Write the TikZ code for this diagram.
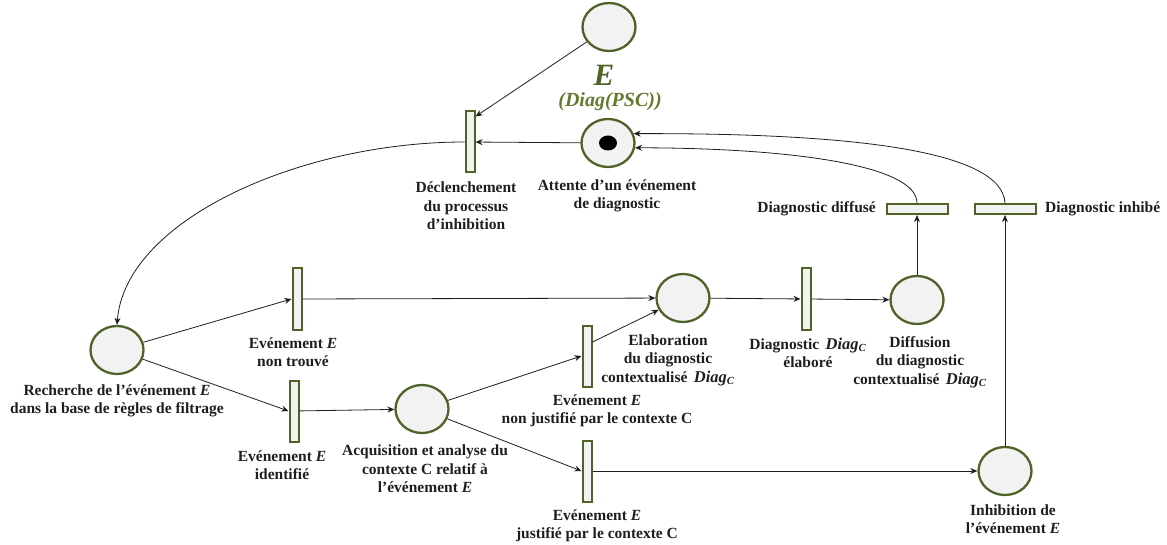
\documentclass[tikz,border=0pt]{standalone}
\usepackage{fontspec}
\setmainfont{Liberation Serif}
\usetikzlibrary{shapes.geometric,arrows.meta}
\definecolor{olv}{HTML}{4F6228}
\definecolor{olvb}{HTML}{627A2E}
\definecolor{fillg}{HTML}{F2F2F2}
\definecolor{txt}{HTML}{1E1E1E}
\newcommand{\mE}{\textit{E}}
\newcommand{\mDiagC}{\,{\fontsize{16.5}{18.5}\selectfont\textit{Diag}}\textsubscript{\textit{C}}}
\begin{document}
\begin{tikzpicture}[x=1pt,y=-1pt,
 place/.style={ellipse,draw=olv,line width=2.3pt,fill=fillg,minimum width=53pt,minimum height=48pt,inner sep=0pt},
 vtrans/.style={rectangle,draw=olv,line width=2pt,fill=fillg,minimum width=9pt,minimum height=61pt,inner sep=0pt},
 htrans/.style={rectangle,draw=olv,line width=2pt,fill=fillg,minimum width=61pt,minimum height=10pt,inner sep=0pt},
 lbl/.style={align=center,font=\bfseries\fontsize{15.5}{18.5}\selectfont,text=txt,inner sep=0pt},
 arc/.style={draw=txt,line width=0.8pt,-{Stealth[length=7pt,width=6pt]}}]
\useasboundingbox (0,0) rectangle (1167,545);
% places
\node[place] (pE) at (609,27) {};
\node[place] (att) at (608,143) {};
\node[ellipse,fill=black,minimum width=18pt,minimum height=15pt,inner sep=0pt] (tok) at (608,143) {};
\node[place] (rech) at (117,350) {};
\node[place] (acq) at (422,409) {};
\node[place] (elab) at (683,298) {};
\node[place] (diff) at (917,300) {};
\node[place] (inh) at (1005,471) {};
% transitions
\node[vtrans] (decl) at (470,142) {};
\node[vtrans] (tnt) at (297,299) {};
\node[vtrans] (tid) at (294,411) {};
\node[vtrans] (tnj) at (587,356) {};
\node[vtrans] (tj) at (587,471) {};
\node[vtrans] (tel) at (806,299) {};
\node[htrans] (tdf) at (917,209) {};
\node[htrans] (tinh) at (1005,209) {};
% labels
\node[font=\bfseries\itshape\fontsize{31}{31}\selectfont,text=olv,inner sep=0pt] (lE) at (604,75) {E};
\node[font=\bfseries\itshape\fontsize{20}{20}\selectfont,text=olvb,inner sep=0pt] (lD) at (610,102) {(Diag(PSC))};
\node[lbl] (ldecl) at (466,206) {Déclenchement\\du processus\\d’inhibition};
\node[lbl] (latt) at (617,196) {Attente d’un événement\\de diagnostic};
\node[lbl,anchor=east] (ltdf) at (876,209) {Diagnostic diffusé};
\node[lbl,anchor=west] (ltinh) at (1045,209) {Diagnostic inhibé};
\node[lbl] (ltnt) at (293,352) {Evénement \mE\\non trouvé};
\node[lbl] (lrech) at (117,401) {Recherche de l’événement \mE\\dans la base de règles de filtrage};
\node[lbl] (ltid) at (282,465) {Evénement \mE\\identifié};
\node[lbl] (lacq) at (425,469) {Acquisition et analyse du\\contexte C relatif à\\l’événement \mE};
\node[lbl] (ltnj) at (597,411) {Evénement \mE\\non justifié par le contexte C};
\node[lbl] (ltj) at (597,526) {Evénement \mE\\justifié par le contexte C};
\node[lbl] (lelab) at (668,360) {Elaboration\\du diagnostic\\contextualisé \mDiagC};
\node[lbl] (ltel) at (808,353) {Diagnostic \mDiagC\\élaboré};
\node[lbl] (ldiff) at (920,362) {Diffusion\\du diagnostic\\contextualisé \mDiagC};
\node[lbl] (linh) at (1013,519) {Inhibition de\\l’événement \mE};
% arcs
\draw[arc] (pE) -- ([yshift=-6pt]decl.north east);
\draw[arc] (att) -- (decl);
\draw[arc] (decl.west) .. controls (300,142) and (125,220) .. (rech.north);
\draw[arc] (rech) -- (tnt.west);
\draw[arc] (rech) -- (tid.west);
\draw[arc] (tnt) -- (elab);
\draw[arc] (tid) -- (acq);
\draw[arc] (acq) -- (tnj.west);
\draw[arc] (acq) -- (tj.west);
\draw[arc] ([yshift=14pt]tnj.east) -- (elab);
\draw[arc] (elab) -- (tel);
\draw[arc] (tel) -- (diff);
\draw[arc] (diff) -- (tdf);
\draw[arc] (tj) -- (inh);
\draw[arc] (inh) -- (tinh);
\draw[arc] (tdf.north) .. controls (917,165) and (790,148) .. (att.-10);
\draw[arc] (tinh.north) .. controls (1002,150) and (850,133) .. (att.20);
\end{tikzpicture}
\end{document}
